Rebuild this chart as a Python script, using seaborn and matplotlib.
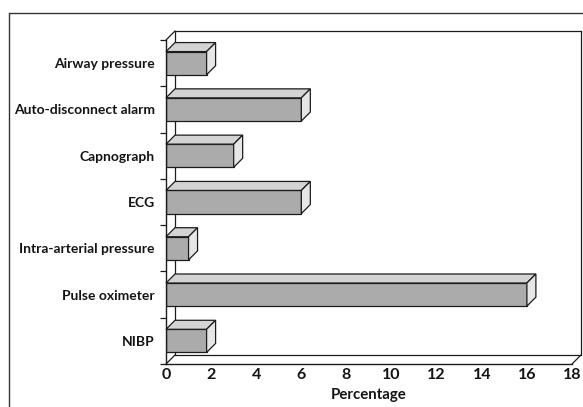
import numpy as np
import matplotlib
matplotlib.use("Agg")
import matplotlib.pyplot as plt
from matplotlib.patches import Polygon
from matplotlib.lines import Line2D
import seaborn as sns

# Monitoring devices and the share of reports mentioning each (%)
categories = [
    "Airway pressure",
    "Auto-disconnect alarm",
    "Capnograph",
    "ECG",
    "Intra-arterial pressure",
    "Pulse oximeter",
    "NIBP",
]
percentages = [1.8, 6.0, 3.0, 6.0, 1.0, 16.0, 1.8]
x_ticks = [0, 2, 4, 6, 8, 10, 12, 14, 16, 18]

sns.set_theme(style="white")
plt.rcParams["font.family"] = ["Lato", "DejaVu Sans"]
plt.rcParams["font.weight"] = "bold"

W, H, DPI = 583, 407, 100
fig = plt.figure(figsize=(W / DPI, H / DPI), dpi=DPI)
fig.patch.set_facecolor("white")

ax_left, ax_right, ax_top, ax_bottom = 166, 572, 40, 364
ax = fig.add_axes([ax_left / W, (H - ax_bottom) / H,
                   (ax_right - ax_left) / W, (ax_bottom - ax_top) / H])
ax.set_facecolor("none")

FRONT = "#ababab"
TOP = "#d3d3d3"
SIDE = "#e6e6e6"
EDGE = "#1c1c1c"
TEXT = "#141414"
DEPTH = 9.0  # pixel depth of the 3D extrusion

sns.barplot(x=percentages, y=categories, orient="h", color=FRONT,
            saturation=1, width=0.5, edgecolor=EDGE, linewidth=0.9,
            ax=ax, zorder=3)

ax.set_xlim(0, 18)
ax.set_ylim(6.5, -0.5)


def shift(points, trans):
    """Move points back into the depth plane by DEPTH pixels."""
    disp = trans.transform(points) + np.array([DEPTH, DEPTH])
    return trans.inverted().transform(disp)


# 3D top and side faces for each bar
for patch in ax.patches:
    x0, y0 = patch.get_x(), patch.get_y()
    x1, y1 = x0 + patch.get_width(), y0 + patch.get_height()
    yt, yb = min(y0, y1), max(y0, y1)
    front_top = np.array([[x0, yt], [x1, yt]])
    back_top = shift(front_top, ax.transData)
    top_face = np.vstack([front_top, back_top[::-1]])
    side_front = np.array([[x1, yt], [x1, yb]])
    side_back = shift(side_front, ax.transData)
    side_face = np.vstack([side_front, side_back[::-1]])
    for verts, col in ((top_face, TOP), (side_face, SIDE)):
        ax.add_patch(Polygon(verts, closed=True, facecolor=col, edgecolor=EDGE,
                             linewidth=0.9, zorder=3, clip_on=False))

# Back wall and floor of the 3D box
corners = np.array([[0, 0], [1, 0], [0, 1]])
b00, b10, b01 = shift(corners, ax.transAxes)
b11 = np.array([b10[0], b01[1]])
wall_kw = dict(transform=ax.transAxes, color=EDGE, linewidth=0.9,
               clip_on=False, zorder=1)
ax.plot([b00[0], b01[0]], [b00[1], b01[1]], **wall_kw)
ax.plot([b01[0], b11[0]], [b01[1], b11[1]], **wall_kw)
ax.plot([b11[0], b10[0]], [b11[1], b10[1]], **wall_kw)
ax.plot([b00[0], b10[0]], [b00[1], b10[1]], **wall_kw)
ax.plot([0, b00[0]], [0, b00[1]], **wall_kw)
ax.plot([1, b10[0]], [0, b10[1]], **wall_kw)
ax.plot([0, b01[0]], [1, b01[1]], **wall_kw)

# Front axes
for side in ("top", "right"):
    ax.spines[side].set_visible(False)
for side in ("left", "bottom"):
    ax.spines[side].set_color(EDGE)
    ax.spines[side].set_linewidth(1.0)
    ax.spines[side].set_zorder(4)

ax.set_yticks(range(len(categories)))
ax.set_yticklabels(categories, fontsize=10, fontweight="bold", color=TEXT)
ax.set_yticks(np.arange(-0.5, len(categories), 1), minor=True)
ax.tick_params(axis="y", which="major", length=0, pad=8)
ax.tick_params(axis="y", which="minor", length=4, width=0.9, color=EDGE,
               direction="out", left=True)

ax.set_xticks(x_ticks)
ax.set_xticklabels([str(t) for t in x_ticks], fontsize=11.5,
                   fontweight="bold", color=TEXT)
ax.tick_params(axis="x", length=0, pad=3)
ax.set_xlabel("Percentage", fontsize=10.8, fontweight="bold",
              color=TEXT, labelpad=4)
ax.set_ylabel("")

# Panel frame (left and top edges)
fx = 8.5 / W
fy = (H - 12.5) / H
fig.add_artist(Line2D([fx, fx], [0, fy], color="#333333", linewidth=1.0))
fig.add_artist(Line2D([fx, 1], [fy, fy], color="#333333", linewidth=1.0))

fig.savefig("out.png", dpi=DPI, facecolor="white")
